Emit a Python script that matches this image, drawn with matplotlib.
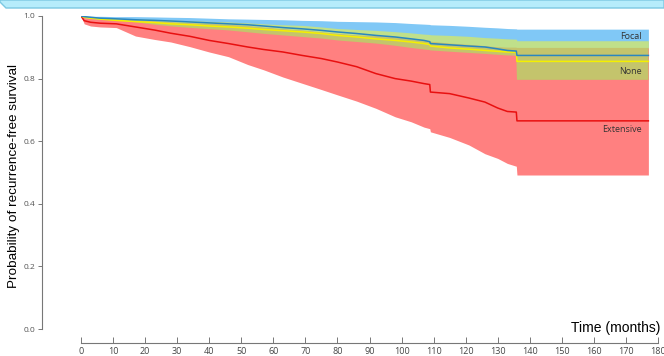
import numpy as np
import matplotlib
matplotlib.use("Agg")
from matplotlib import pyplot as plt
from matplotlib.patches import Polygon

# time points (months); repeated-ish points mark the sharp drops
months = [0, 1, 3, 6, 11, 17, 23, 28, 34, 40, 46, 52, 57, 63, 69, 75, 80, 86,
          92, 98, 103, 107, 108.8, 109, 115, 121, 126, 130, 133, 135.8, 136, 177]

# Extensive
ext_surv = [1.0, 0.985, 0.980, 0.977, 0.975, 0.965, 0.955, 0.945, 0.935, 0.922, 0.912, 0.901, 0.893, 0.885,
            0.874, 0.864, 0.853, 0.838, 0.816, 0.800, 0.792, 0.784, 0.781, 0.757, 0.752, 0.738, 0.725,
            0.706, 0.695, 0.693, 0.665, 0.665]
ext_lo = [1.0, 0.975, 0.968, 0.965, 0.963, 0.936, 0.925, 0.917, 0.902, 0.885, 0.870, 0.845, 0.828, 0.805,
          0.785, 0.765, 0.748, 0.728, 0.705, 0.678, 0.662, 0.645, 0.640, 0.630, 0.612, 0.588, 0.560,
          0.545, 0.529, 0.520, 0.492, 0.492]
ext_hi = [1.0, 0.995, 0.992, 0.990, 0.988, 0.986, 0.983, 0.980, 0.977, 0.975, 0.972, 0.968, 0.963, 0.958,
          0.954, 0.948, 0.943, 0.938, 0.936, 0.932, 0.928, 0.922, 0.919, 0.918, 0.912, 0.908, 0.904,
          0.900, 0.899, 0.899, 0.898, 0.898]

# None
none_surv = [1.0, 0.996, 0.993, 0.990, 0.986, 0.982, 0.979, 0.975, 0.972, 0.968, 0.965, 0.961, 0.957, 0.953,
             0.949, 0.944, 0.938, 0.933, 0.927, 0.922, 0.917, 0.912, 0.909, 0.904, 0.898, 0.894, 0.890,
             0.887, 0.885, 0.884, 0.855, 0.855]
none_lo = [1.0, 0.995, 0.993, 0.991, 0.986, 0.980, 0.972, 0.967, 0.962, 0.958, 0.954, 0.948, 0.943, 0.938,
           0.933, 0.928, 0.922, 0.917, 0.912, 0.905, 0.898, 0.893, 0.891, 0.890, 0.886, 0.882, 0.879,
           0.876, 0.874, 0.873, 0.796, 0.796]
none_hi = [1.0, 0.998, 0.996, 0.995, 0.993, 0.991, 0.989, 0.987, 0.985, 0.983, 0.981, 0.978, 0.975, 0.972,
           0.970, 0.965, 0.960, 0.957, 0.954, 0.950, 0.946, 0.942, 0.941, 0.940, 0.938, 0.935, 0.931,
           0.929, 0.927, 0.926, 0.921, 0.921]

# Focal
focal_surv = [1.0, 0.998, 0.996, 0.993, 0.991, 0.988, 0.986, 0.984, 0.981, 0.978, 0.975, 0.972, 0.968, 0.963,
              0.959, 0.954, 0.949, 0.944, 0.938, 0.933, 0.927, 0.922, 0.918, 0.912, 0.908, 0.904, 0.901,
              0.895, 0.890, 0.888, 0.874, 0.874]
focal_lo = [1.0, 0.994, 0.990, 0.986, 0.982, 0.978, 0.974, 0.970, 0.966, 0.962, 0.957, 0.952, 0.947, 0.941,
            0.936, 0.930, 0.924, 0.918, 0.911, 0.905, 0.898, 0.885, 0.883, 0.881, 0.876, 0.871, 0.867,
            0.860, 0.854, 0.852, 0.830, 0.830]
focal_hi = [1.0, 1.0, 0.999, 0.999, 0.998, 0.998, 0.997, 0.996, 0.995, 0.993, 0.991, 0.990, 0.989, 0.988,
            0.986, 0.985, 0.983, 0.982, 0.981, 0.979, 0.976, 0.974, 0.973, 0.972, 0.970, 0.967, 0.964,
            0.962, 0.960, 0.959, 0.958, 0.958]

x_ticks = list(range(0, 190, 10))
y_ticks = [0.0, 0.2, 0.4, 0.6, 0.8, 1.0]

t = np.array(months)
fig = plt.figure(figsize=(6.64, 3.56), dpi=100)
ax = fig.add_axes([81 / 664, 27 / 356, 577 / 664, 313 / 356])

# confidence bands (opaque, layered)
ax.fill_between(t, focal_lo, focal_hi, color='#80c8f6', lw=0)
ax.fill_between(t, none_lo, none_hi, color='#c0e08a', lw=0)
ax.fill_between(t, ext_lo, ext_hi, color='#ff8080', lw=0)
ov_lo = np.maximum(none_lo, ext_lo)
ov_hi = np.minimum(none_hi, ext_hi)
ax.fill_between(t, ov_lo, ov_hi, where=ov_hi >= ov_lo, color='#c4c46c', lw=0)

# survival curves
ax.plot(t, ext_surv, color='#e81010', lw=1.1)
ax.plot(t, none_surv, color='#f4f000', lw=1.1)
ax.plot(t, focal_surv, color='#2a86c0', lw=1.1)

lab_font = dict(family='Open Sans', fontsize=6.5, color='#333333', ha='right', va='center')
ax.text(175, 0.936, 'Focal', **lab_font)
ax.text(175, 0.824, 'None', **lab_font)
ax.text(175, 0.636, 'Extensive', **lab_font)

ax.set_xlim(0, 180)
ax.set_ylim(0, 1)
for s in ['top', 'right']:
    ax.spines[s].set_visible(False)
ax.spines['left'].set_position(('outward', 28))
ax.spines['bottom'].set_position(('outward', 10))
ax.spines['left'].set_bounds(0, 1)
ax.spines['bottom'].set_bounds(0, 180)
for s in ['left', 'bottom']:
    ax.spines[s].set_color('#777777')
    ax.spines[s].set_linewidth(0.8)

ax.set_xticks(x_ticks)
ax.set_yticks(y_ticks)
ax.set_yticklabels([f'{v:.1f}' for v in y_ticks])
ax.tick_params(axis='x', direction='in', length=4, width=0.7, color='#777777',
               labelsize=6.5, labelcolor='#444444', pad=3)
ax.tick_params(axis='y', direction='out', length=3, width=0.7, color='#777777',
               labelsize=6, labelcolor='#555555', pad=2)
for lbl in ax.get_xticklabels() + ax.get_yticklabels():
    lbl.set_family('Open Sans')

fig.text(14 / 664, 1 - 176 / 356, 'Probability of recurrence-free survival',
         rotation=90, ha='center', va='center', family='Liberation Sans', fontsize=9.7)
fig.text(660 / 664, 1 - 328 / 356, 'Time (months)', ha='right', va='center',
         family='Liberation Sans', fontsize=10)

# cut-off title banner at the top
banner = Polygon([[0, 1], [1, 1], [1, 1 - 8 / 356], [6 / 664, 1 - 8 / 356], [0, 1 - 2 / 356]],
                 closed=True, transform=fig.transFigure, facecolor='#b6ecfb',
                 edgecolor='#7cc8e2', lw=1.0)
fig.patches.append(banner)

fig.savefig('out.png', dpi=100)
